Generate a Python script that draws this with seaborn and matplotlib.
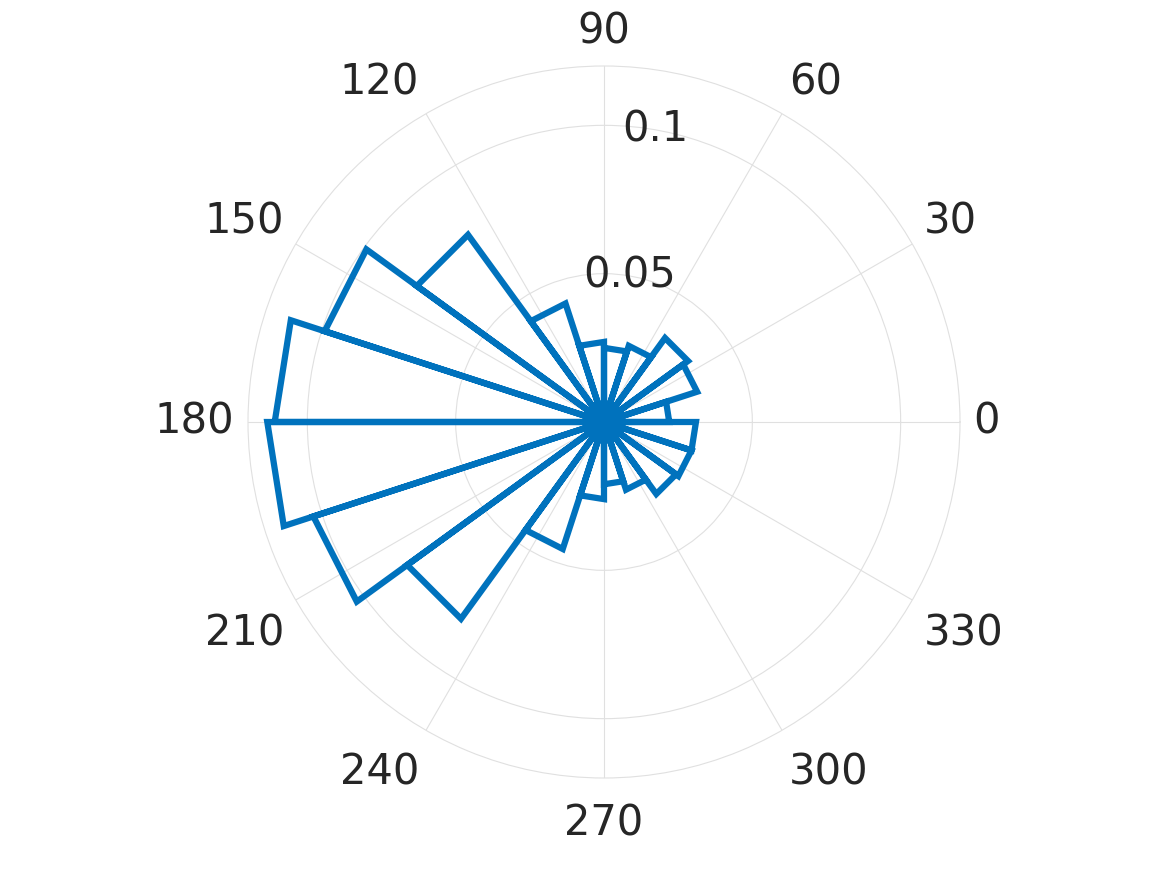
import numpy as np
import pandas as pd
import matplotlib
matplotlib.use("Agg")
import matplotlib.pyplot as plt
import seaborn as sns

# rose histogram, 20 bins of 18 degrees (probability per bin)
bin_edges_deg = np.arange(0, 361, 18)
bin_prob = [0.022, 0.033, 0.035, 0.027, 0.025, 0.027, 0.042, 0.078, 0.099, 0.111,
            0.1135, 0.103, 0.082, 0.045, 0.026, 0.021, 0.024, 0.030, 0.031, 0.031]

theta_ticks = list(range(0, 360, 30))
theta_labels = [str(t) for t in theta_ticks]
r_ticks = [0.05, 0.1]
r_labels = ["0.05", "0.1"]
r_max = 0.12

line_color = "#0072BD"
grid_color = "#e0e0e0"
text_color = "#262626"

sns.set_theme(style="white")
plt.rcParams['font.family'] = ['DejaVu Sans']

# build the rose outline: centre -> (lo, r) -> (hi, r) -> centre for every bin
th, rr = [], []
for i, p in enumerate(bin_prob):
    lo = np.deg2rad(bin_edges_deg[i])
    hi = np.deg2rad(bin_edges_deg[i + 1])
    th += [lo, lo, hi, hi]
    rr += [0, p, p, 0]
df = pd.DataFrame({"theta": th, "r": rr})

fig = plt.figure(figsize=(11.67, 8.75), dpi=100)
ax = fig.add_axes([248 / 1167, 97 / 875, 712 / 1167, 712 / 875], projection="polar")

sns.lineplot(data=df, x="theta", y="r", sort=False, estimator=None, ax=ax,
             color=line_color, linewidth=4.5)
for ln in ax.get_lines():
    ln.set_solid_joinstyle("miter")

ax.set_rlim(0, r_max)
ax.set_xticks(np.deg2rad(theta_ticks))
ax.set_xticklabels([])
ax.set_yticks(r_ticks)
ax.set_yticklabels([])
ax.set_xlabel("")
ax.set_ylabel("")
ax.grid(True, color=grid_color, linewidth=0.8)
ax.spines["polar"].set_color(grid_color)
ax.spines["polar"].set_linewidth(0.8)
ax.tick_params(length=0)

# angle labels just outside the circle, aligned by quadrant (offsets in px)
gap_x, gap_up, gap_down = 13.5, 22, 24
for t, lab in zip(theta_ticks, theta_labels):
    c, s = np.cos(np.deg2rad(t)), np.sin(np.deg2rad(t))
    ha = "left" if c > 0.01 else ("right" if c < -0.01 else "center")
    va = "baseline" if s > 0.01 else ("top" if s < -0.01 else "center")
    gy = gap_up if s > 0 else gap_down
    ax.annotate(lab, xy=(np.deg2rad(t), r_max), xytext=(gap_x * c * 0.72, gy * s * 0.72),
                textcoords="offset points", ha=ha, va=va, fontsize=30,
                color=text_color, annotation_clip=False)

# radial labels at 80 degrees
for rv, lab in zip(r_ticks, r_labels):
    ax.text(np.deg2rad(80), rv, lab, ha="center", va="center", fontsize=30, color=text_color)

fig.savefig("out.png", dpi=100)
